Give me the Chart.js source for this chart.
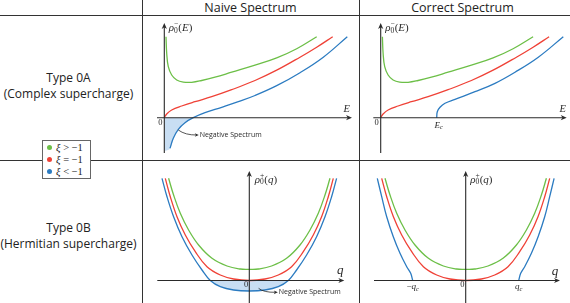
<!DOCTYPE html>
<html>
<head>
<meta charset="utf-8">
<script src="https://cdn.jsdelivr.net/npm/chart.js@4.4.0/dist/chart.umd.min.js"></script>
<style>
  body { margin: 0; background: #fff; width: 570px; height: 303px; overflow: hidden; position: relative; font-family: "Open Sans", sans-serif; color: #222; }
  .rule { position: absolute; background: #333; }
  .head { position: absolute; top: -1px; width: 215px; text-align: center; font-size: 12.5px; line-height: 17px; }
  .row { position: absolute; left: 0; width: 137px; text-align: center; font-size: 12px; line-height: 16px; }
  canvas { position: absolute; }
  .legend { position: absolute; left: 42px; top: 140px; width: 47px; height: 37px; border: 1px solid #666; background: #fff; font-family: "Liberation Serif", serif; font-size: 10.5px; }
  .legend div { position: absolute; left: 4px; height: 12px; line-height: 12px; white-space: nowrap; }
  .legend span.dot { display: inline-block; width: 5px; height: 5px; border-radius: 50%; margin-right: 4px; vertical-align: 1px; }
  .legend i { font-style: italic; }
</style>
</head>
<body>
<div class="rule" style="left:0;top:15px;width:570px;height:1px"></div>
<div class="rule" style="left:0;top:160px;width:570px;height:1px"></div>
<div class="rule" style="left:142px;top:0;width:1px;height:303px"></div>
<div class="rule" style="left:359px;top:0;width:1px;height:303px"></div>

<div class="head" style="left:143px">Naive Spectrum</div>
<div class="head" style="left:355px">Correct Spectrum</div>

<div class="row" style="top:70px">Type 0A<br>(Complex supercharge)</div>
<div class="row" style="top:220px">Type 0B<br>(Hermitian supercharge)</div>

<div class="legend">
  <div style="top:1px"><span class="dot" style="background:#6cbf47"></span><i>ξ</i> &gt; −1</div>
  <div style="top:13px"><span class="dot" style="background:#ef4136"></span><i>ξ</i> = −1</div>
  <div style="top:25px"><span class="dot" style="background:#2b7bc1"></span><i>ξ</i> &lt; −1</div>
</div>

<canvas id="tl" width="215" height="143" style="left:143px;top:16px"></canvas>
<canvas id="tr" width="210" height="143" style="left:360px;top:16px"></canvas>
<canvas id="bl" width="215" height="142" style="left:143px;top:161px"></canvas>
<canvas id="br" width="210" height="142" style="left:360px;top:161px"></canvas>

<script>
// Type 0A: rho_0^-(E) against E
const eGreen = [[0.17,8.1],[0.24,6.44],[0.4,5.1],[0.74,4.27],[1.24,3.77],[1.9,3.56],[2.74,3.54],[3.74,3.72],[5.07,4.05],[6.74,4.55],[9.07,5.25],[11.24,5.98],[13.24,6.9],[15.24,8.1]];
const eRed = [[0,0],[0.24,0.37],[0.74,0.77],[1.74,1.17],[3.07,1.6],[4.74,2.1],[6.74,2.8],[9.07,3.72],[11.24,4.75],[13.57,6.05],[15.24,7.05],[16.84,8.1]];
const eBlueNaive = [[0.57,-3.06],[0.9,-2.06],[1.4,-1.16],[2.07,-0.5],[2.9,0],[4.07,0.5],[5.74,1.04],[7.4,1.6],[9.07,2.22],[11.24,3.2],[13.57,4.5],[15.9,6.05],[18.3,8.1]];
const eNegative = [[0,0],[0,-3.25],[0.57,-3.1],[0.9,-2.06],[1.4,-1.16],[2.07,-0.5],[2.9,0]];
const eBlueCorrect = [[5.6,0],[5.66,0.6],[5.93,1.04],[6.43,1.44],[7.43,1.84],[9.43,2.6],[11.43,3.44],[13.43,4.55],[15.76,6.05],[18.26,8.1]];
const eCritical = 5.6;

// Type 0B: rho_0^+(q) against q
const qGreen = [[-8.07,10.22],[-7.57,8.55],[-6.9,6.72],[-6.07,5.05],[-5.07,3.55],[-3.73,2.22],[-2.23,1.45],[-0.9,1.15],[0,1.12],[0.9,1.15],[2.23,1.45],[3.73,2.22],[5.07,3.55],[6.07,5.05],[6.9,6.72],[7.57,8.55],[8.07,10.22]];
const qRed = [[-8.4,10.22],[-7.9,8.38],[-7.23,6.38],[-6.4,4.55],[-5.4,2.88],[-4.23,1.38],[-2.9,0.55],[-1.57,0.15],[0,0],[1.57,0.15],[2.9,0.55],[4.23,1.38],[5.4,2.88],[6.4,4.55],[7.23,6.38],[7.9,8.38],[8.4,10.22]];
const qBlueNaive = [[-8.73,10.22],[-8.23,8.38],[-7.57,6.38],[-6.73,4.38],[-5.73,2.55],[-4.73,1.05],[-3.9,0],[-2.9,-0.62],[-1.57,-0.95],[0,-1.05],[1.57,-0.95],[2.9,-0.62],[3.9,0],[4.73,1.05],[5.73,2.55],[6.73,4.38],[7.57,6.38],[8.23,8.38],[8.73,10.22]];
const qNegative = [[-3.9,0],[-2.9,-0.62],[-1.57,-0.95],[0,-1.05],[1.57,-0.95],[2.9,-0.62],[3.9,0]];
const qBlueLeft = [[-8.84,10.22],[-8.4,8.38],[-7.9,6.38],[-7.24,4.38],[-6.57,2.72],[-5.9,1.38],[-5.5,0.72],[-5.3,0]];
const qBlueRight = [[5.3,0],[5.5,0.72],[5.9,1.38],[6.57,2.72],[7.24,4.38],[7.9,6.38],[8.4,8.38],[8.84,10.22]];
const qCritical = 5.3;

const GREEN = '#6cbf47', RED = '#ef4136', BLUE = '#2b7bc1', SHADE = 'rgba(170,205,236,0.65)', INK = '#2a2a2a';
const MATH = '"Liberation Serif", serif';

function curve(data, color) {
    return { data: data, borderColor: color, borderWidth: 1.3, pointRadius: 0, showLine: true, fill: false, tension: 0.4 };
}
function shade(data) {
    return { data: data, borderWidth: 0, borderColor: 'rgba(0,0,0,0)', backgroundColor: SHADE, pointRadius: 0, showLine: true, fill: 'origin', tension: 0.3 };
}

function arrowHead(ctx, x, y, ang, len, half) {
    ctx.save();
    ctx.translate(x, y);
    ctx.rotate(ang);
    ctx.beginPath();
    ctx.moveTo(0, 0);
    ctx.lineTo(-len, -half);
    ctx.lineTo(-len * 0.7, 0);
    ctx.lineTo(-len, half);
    ctx.closePath();
    ctx.fill();
    ctx.restore();
}

// tokens: {t, i (italic), s (size), dy, stack (next token shares x)}
function drawMath(ctx, x, y, tokens, align) {
    const widths = tokens.map(tk => {
        ctx.font = (tk.i ? 'italic ' : '') + tk.s + 'px ' + MATH;
        return ctx.measureText(tk.t).width;
    });
    let total = 0;
    for (let k = 0; k < tokens.length; k++) {
        if (tokens[k].stack) { total += Math.max(widths[k], widths[k + 1]); k++; }
        else total += widths[k];
    }
    let cx = align === 'center' ? x - total / 2 : x;
    ctx.textBaseline = 'middle';
    ctx.textAlign = 'left';
    for (let k = 0; k < tokens.length; k++) {
        const tk = tokens[k];
        ctx.font = (tk.i ? 'italic ' : '') + tk.s + 'px ' + MATH;
        ctx.fillText(tk.t, cx, y + (tk.dy || 0));
        if (tk.stack) {
            const nx = tokens[k + 1];
            ctx.font = (nx.i ? 'italic ' : '') + nx.s + 'px ' + MATH;
            ctx.fillText(nx.t, cx, y + (nx.dy || 0));
            cx += Math.max(widths[k], widths[k + 1]);
            k++;
        } else {
            cx += widths[k];
        }
    }
}

function rhoTokens(sign, arg) {
    return [
        { t: 'ρ', i: 1, s: 11 },
        { t: sign, s: 7.5, dy: -4, stack: 1 },
        { t: '0', s: 7.5, dy: 2.5 },
        { t: '(', s: 11 },
        { t: arg, i: 1, s: 11 },
        { t: ')', s: 11 }
    ];
}

const sketchAxes = {
    id: 'sketchAxes',
    afterDatasetsDraw(chart, args, o) {
        const ctx = chart.ctx;
        const X = v => chart.scales.x.getPixelForValue(v);
        const Y = v => chart.scales.y.getPixelForValue(v);
        const x0 = X(0), y0 = Y(0);
        ctx.save();
        ctx.strokeStyle = INK;
        ctx.fillStyle = INK;
        ctx.lineWidth = 1.1;
        ctx.beginPath();
        ctx.moveTo(X(o.xAxis[0]), y0);
        ctx.lineTo(X(o.xAxis[1]) - 3, y0);
        ctx.moveTo(x0, Y(o.yAxis[0]));
        ctx.lineTo(x0, Y(o.yAxis[1]) + 3);
        ctx.stroke();
        arrowHead(ctx, X(o.xAxis[1]), y0, 0, 6, 2.6);
        arrowHead(ctx, x0, Y(o.yAxis[1]), -Math.PI / 2, 6, 2.6);

        o.labels.forEach(l => drawMath(ctx, X(l.at[0]), Y(l.at[1]), l.tokens, l.align));

        (o.notes || []).forEach(n => {
            const fx = X(n.from[0]), fy = Y(n.from[1]);
            const cx = X(n.ctrl[0]), cy = Y(n.ctrl[1]);
            const tx = X(n.to[0]), ty = Y(n.to[1]);
            ctx.lineWidth = 0.8;
            ctx.beginPath();
            ctx.moveTo(fx, fy);
            ctx.quadraticCurveTo(cx, cy, tx - 2, ty);
            ctx.stroke();
            arrowHead(ctx, tx, ty, Math.atan2(ty - cy, tx - cx), 4, 1.8);
            ctx.font = '7px "Open Sans", sans-serif';
            ctx.textBaseline = 'middle';
            ctx.textAlign = 'left';
            ctx.fillText(n.text, tx + 1, ty);
        });
        ctx.restore();
    }
};

function makePanel(id, ox, oy, datasets, axes) {
    const cv = document.getElementById(id);
    const left = parseFloat(cv.style.left), top = parseFloat(cv.style.top);
    const unit = 10;
    new Chart(cv, {
        type: 'scatter',
        data: { datasets: datasets },
        options: {
            responsive: false,
            animation: false,
            events: [],
            layout: { padding: 0 },
            scales: {
                x: { type: 'linear', display: false, min: (left - ox) / unit, max: (left + cv.width - ox) / unit },
                y: { type: 'linear', display: false, min: (oy - top - cv.height) / unit, max: (oy - top) / unit }
            },
            plugins: { legend: { display: false }, tooltip: { enabled: false }, sketchAxes: axes }
        },
        plugins: [sketchAxes]
    });
}

const zero = (x, y) => ({ at: [x, y], align: 'center', tokens: [{ t: '0', s: 8.5 }] });

makePanel('tl', 164.3, 117.7,
    [curve(eGreen, GREEN), curve(eRed, RED), curve(eBlueNaive, BLUE), shade(eNegative)],
    {
        xAxis: [-0.73, 18.77], yAxis: [-3.53, 9.47],
        labels: [
            { at: [0.45, 8.95], align: 'left', tokens: rhoTokens('−', 'E') },
            { at: [18.24, 0.84], align: 'center', tokens: [{ t: 'E', i: 1, s: 10.5 }] },
            zero(-0.4, -0.55)
        ],
        notes: [{ from: [1.4, -1.23], ctrl: [2.1, -1.75], to: [3.45, -1.73], text: 'Negative Spectrum' }]
    });

makePanel('tr', 380.7, 117.7,
    [curve(eGreen, GREEN), curve(eRed, RED), curve(eBlueCorrect, BLUE)],
    {
        xAxis: [-0.74, 18.6], yAxis: [-3.53, 9.47],
        labels: [
            { at: [0.45, 8.95], align: 'left', tokens: rhoTokens('−', 'E') },
            { at: [18.2, 0.84], align: 'center', tokens: [{ t: 'E', i: 1, s: 10.5 }] },
            zero(-0.4, -0.55),
            { at: [eCritical + 0.2, -0.75], align: 'center', tokens: [{ t: 'E', i: 1, s: 9 }, { t: 'c', i: 1, s: 6.5, dy: 2.5 }] }
        ]
    });

makePanel('bl', 249.3, 280.5,
    [curve(qGreen, GREEN), curve(qRed, RED), curve(qBlueNaive, BLUE), shade(qNegative)],
    {
        xAxis: [-9.2, 9.5], yAxis: [-2.3, 10.95],
        labels: [
            { at: [0.55, 10.05], align: 'left', tokens: rhoTokens('+', 'q') },
            { at: [9.1, 0.95], align: 'center', tokens: [{ t: 'q', i: 1, s: 13 }] },
            zero(-0.32, -0.42)
        ],
        notes: [{ from: [0.93, -0.78], ctrl: [1.4, -1.2], to: [2.85, -1.18], text: 'Negative Spectrum' }]
    });

makePanel('br', 465.7, 280.5,
    [curve(qGreen, GREEN), curve(qRed, RED), curve(qBlueLeft, BLUE), curve(qBlueRight, BLUE)],
    {
        xAxis: [-9.17, 9.43], yAxis: [-2.3, 10.95],
        labels: [
            { at: [0.45, 10.05], align: 'left', tokens: rhoTokens('+', 'q') },
            { at: [8.93, 0.88], align: 'center', tokens: [{ t: 'q', i: 1, s: 13 }] },
            zero(-0.34, -0.45),
            { at: [-qCritical, -0.65], align: 'center', tokens: [{ t: '−', s: 9 }, { t: 'q', i: 1, s: 9 }, { t: 'c', i: 1, s: 6.5, dy: 2.5 }] },
            { at: [qCritical, -0.65], align: 'center', tokens: [{ t: 'q', i: 1, s: 9 }, { t: 'c', i: 1, s: 6.5, dy: 2.5 }] }
        ]
    });
</script>
</body>
</html>
